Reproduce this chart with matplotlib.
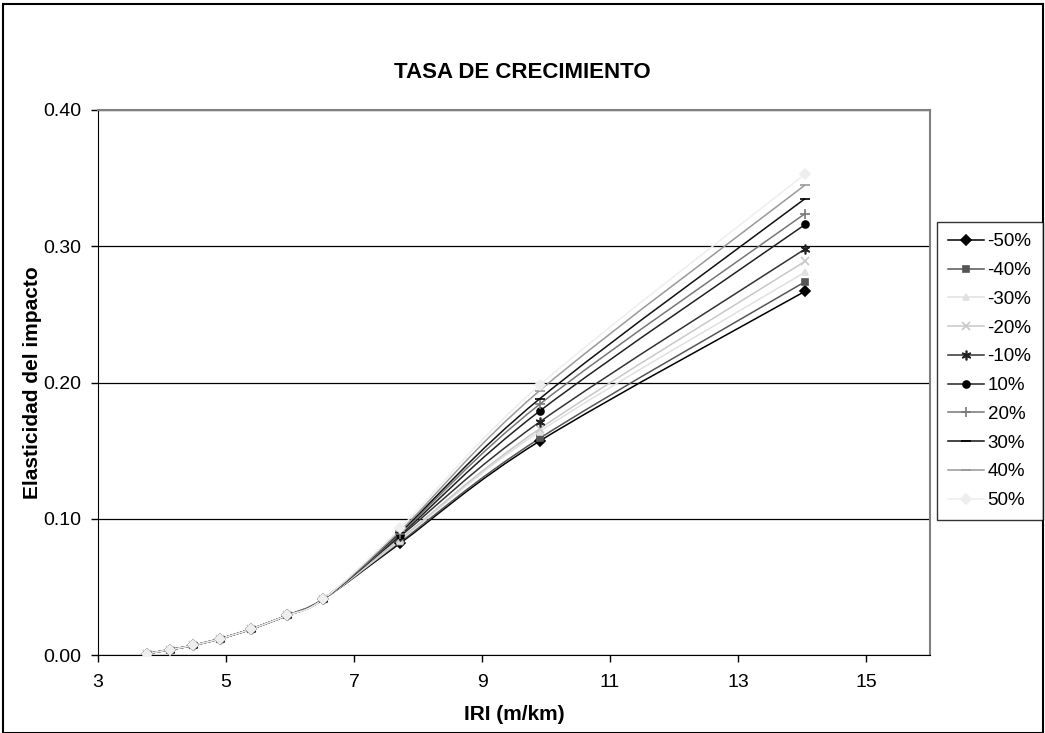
import matplotlib.pyplot as plt
import numpy as np
from matplotlib.path import Path
from matplotlib.patches import PathPatch, Rectangle
from matplotlib.lines import Line2D

plt.rcParams['font.family'] = ['Liberation Sans', 'DejaVu Sans']

# IRI values (m/km) and impact elasticity for each growth-rate scenario
iri = [3.77, 4.13, 4.48, 4.91, 5.39, 5.95, 6.52, 7.72, 9.90, 14.05]

labels = ['-50%', '-40%', '-30%', '-20%', '-10%', '10%', '20%', '30%', '40%', '50%']

common = [0.001, 0.004, 0.007, 0.012, 0.019, 0.029, 0.041]
tail_772 = [0.082, 0.083, 0.084, 0.085, 0.087, 0.088, 0.089, 0.090, 0.091, 0.093]
tail_990 = [0.157, 0.159, 0.164, 0.166, 0.171, 0.179, 0.184, 0.188, 0.194, 0.198]
tail_1405 = [0.267, 0.274, 0.281, 0.289, 0.298, 0.316, 0.324, 0.335, 0.345, 0.353]

# styles for each scenario: line colour, marker, marker colour, marker size
styles = [
    ('#000000', 'D', '#000000', 5),
    ('#555555', 's', '#555555', 5),
    ('#e0e0e0', '^', '#e0e0e0', 5),
    ('#c8c8c8', 'x', '#c8c8c8', 6),
    ('#333333', (6, 2, 0), '#222222', 7),
    ('#222222', 'o', '#000000', 5),
    ('#777777', '+', '#777777', 7),
    ('#111111', '_', '#000000', 7),
    ('#999999', '_', '#999999', 7),
    ('#eeeeee', 'D', '#eeeeee', 5),
]


def smooth_path(x, y):
    # Excel-style smoothed line: cubic Bezier segments through the points
    pts = np.column_stack([x, y])
    n = len(pts)
    verts = [pts[0]]
    codes = [Path.MOVETO]
    for i in range(n - 1):
        p0 = pts[i - 1] if i > 0 else pts[i]
        p1 = pts[i]
        p2 = pts[i + 1]
        p3 = pts[i + 2] if i + 2 < n else pts[i + 1]
        c1 = p1 + (p2 - p0) / 6.0
        c2 = p2 - (p3 - p1) / 6.0
        verts += [c1, c2, p2]
        codes += [Path.CURVE4] * 3
    return Path(verts, codes)


fig = plt.figure(figsize=(10.45, 7.33), dpi=100)
ax = fig.add_axes([98 / 1045, 1 - 655 / 733, (930 - 98) / 1045, (655 - 110) / 733])

handles = []
for i, lab in enumerate(labels):
    yv = common + [tail_772[i], tail_990[i], tail_1405[i]]
    lc, mk, mc, ms = styles[i]
    ax.add_patch(PathPatch(smooth_path(iri, yv), facecolor='none', edgecolor=lc, lw=1.1, zorder=3))
    ax.plot(iri, yv, linestyle='none', marker=mk, color=mc, markersize=ms,
            markeredgewidth=1.2, zorder=4)
    handles.append(Line2D([], [], color=lc, lw=1.1, marker=mk, markerfacecolor=mc,
                          markeredgecolor=mc, markersize=ms, markeredgewidth=1.2))

ax.set_xlim(3, 16)
ax.set_ylim(0, 0.40)
ax.set_xticks([3, 5, 7, 9, 11, 13, 15])
ax.set_yticks([0, 0.1, 0.2, 0.3, 0.4])
ax.set_yticklabels(['0.00', '0.10', '0.20', '0.30', '0.40'])
ax.tick_params(labelsize=14, direction='out', length=5, width=1)
ax.tick_params(axis='x', pad=9)
ax.tick_params(axis='y', pad=7)
ax.grid(axis='y', color='#000000', lw=0.9)
ax.set_axisbelow(True)

ax.spines['top'].set_color('#808080')
ax.spines['right'].set_color('#808080')
ax.spines['top'].set_linewidth(1.5)
ax.spines['right'].set_linewidth(1.5)

ax.set_xlabel('IRI (m/km)', fontsize=15, fontweight='bold', labelpad=10)
ax.set_ylabel('Elasticidad del impacto', fontsize=15, fontweight='bold', labelpad=1)
fig.text(522 / 1045, 1 - 72 / 733, 'TASA DE CRECIMIENTO', fontsize=16, fontweight='bold',
         ha='center', va='center')

leg = fig.legend(handles, labels, loc='upper left', bbox_to_anchor=(937 / 1045, 1 - 222 / 733),
                 fontsize=13.5, frameon=True, fancybox=False, shadow=False,
                 handlelength=1.9, handletextpad=0.2, labelspacing=0.62,
                 borderpad=0.6, borderaxespad=0)
leg.get_frame().set_edgecolor('black')
leg.get_frame().set_linewidth(1)

# outer chart border
fig.patches.append(Rectangle((0.003, 0.0), 0.995, 0.995, transform=fig.transFigure,
                             fill=False, edgecolor='black', lw=1.5))

plt.savefig('out.png', dpi=100)
